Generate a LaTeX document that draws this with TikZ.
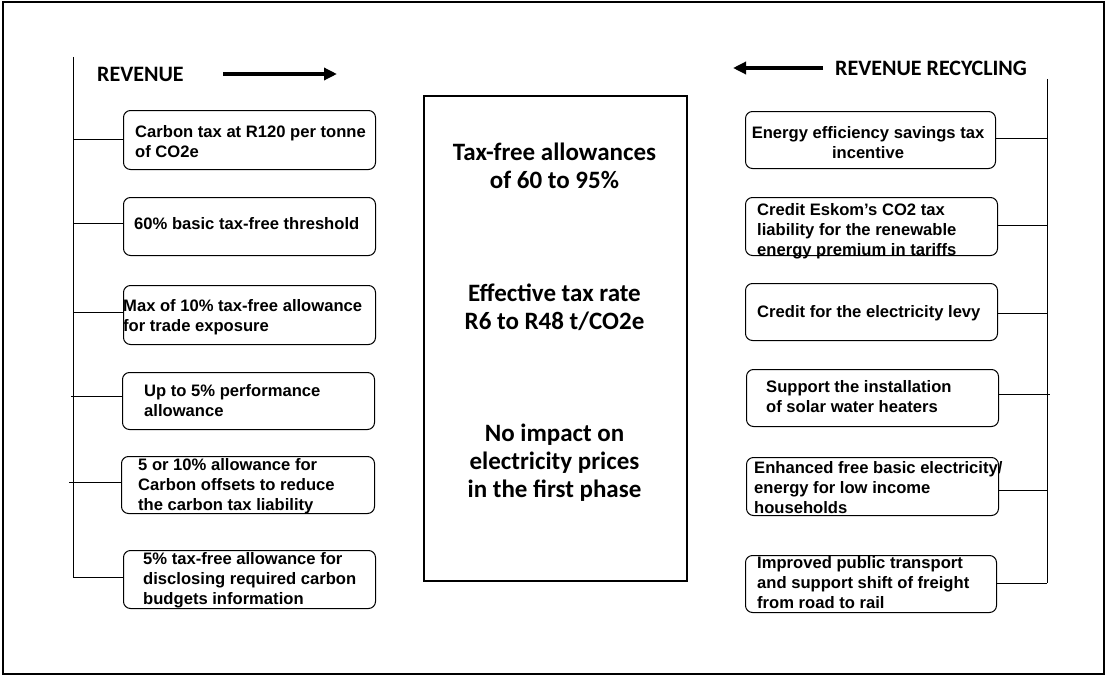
\documentclass[tikz,border=0pt]{standalone}
\usepackage{fontspec}
\usetikzlibrary{arrows.meta}
\setmainfont{Liberation Sans}
\newfontfamily\calib{Carlito}
\begin{document}
\begin{tikzpicture}[x=1pt,y=-1pt,
  bx/.style={draw,rounded corners=7pt,line width=1pt,anchor=north west,inner sep=0pt},
  bt/.style={anchor=base west,align=left,inner sep=0pt,font=\fontsize{16.6}{20}\selectfont\bfseries},
  ln/.style={line width=0.9pt},
  hd/.style={font=\calib\fontsize{22}{24}\selectfont\bfseries,inner sep=0pt},
  ct/.style={font=\calib\fontsize{25}{28}\selectfont\bfseries,align=center,inner sep=0pt},
  ar/.style={line width=4pt,-{Triangle[length=13pt,width=12pt]}}]
\useasboundingbox (0,0) rectangle (1106,677);
\draw[line width=1.5pt] (3,2) rectangle (1104,674);
% left
\coordinate (lt) at (73,57);
\coordinate (lb) at (73,577);
\draw[ln] (lt) -- (lb);
\node[hd,anchor=west] (rev) at (97,74) {REVENUE};
\coordinate (ra1) at (223,74);
\coordinate (ra2) at (337,74);
\draw[ar] (ra1) -- (ra2);
\node[bx,minimum width=252pt,minimum height=59pt] (L1) at (123,110) {};
\node[bx,minimum width=252pt,minimum height=58pt] (L2) at (123,197) {};
\node[bx,minimum width=252pt,minimum height=59pt] (L3) at (123,285) {};
\node[bx,minimum width=252pt,minimum height=57pt] (L4) at (122,372) {};
\node[bx,minimum width=253pt,minimum height=57pt] (L5) at (121,456) {};
\node[bx,minimum width=252pt,minimum height=58pt] (L6) at (123,550) {};
\node[bt] (t1) at (135,157) {Carbon tax at R120 per tonne\\of CO2e};
\node[bt] (t2) at (134,229) {60\% basic tax-free threshold};
\node[bt] (t3) at (123,331) {Max of 10\% tax-free allowance\\for trade exposure};
\node[bt] (t4) at (144,416) {Up to 5\% performance\\allowance};
\node[bt] (t5) at (138,510) {5 or 10\% allowance for\\Carbon offsets to reduce\\the carbon tax liability};
\node[bt] (t6) at (143,604) {5\% tax-free allowance for\\disclosing required carbon\\budgets information};
\coordinate (j1) at (73,139);
\coordinate (j2) at (73,223);
\coordinate (j3) at (73,312);
\coordinate (j4) at (71,396);
\coordinate (j5) at (69,482);
\coordinate (j6) at (73,577);
\draw[ln] (j1) -- (L1.west |- j1);
\draw[ln] (j2) -- (L2.west |- j2);
\draw[ln] (j3) -- (L3.west |- j3);
\draw[ln] (j4) -- (L4.west |- j4);
\draw[ln] (j5) -- (L5.west |- j5);
\draw[ln] (j6) -- (L6.west |- j6);
% center
\node[draw,line width=1.8pt,anchor=north west,minimum width=263pt,minimum height=485pt,inner sep=0pt] (C) at (423,95) {};
\node[ct] (c1) at (554.5,166) {Tax-free allowances\\of 60 to 95\%};
\node[ct] (c2) at (554.5,307) {Effective tax rate\\R6 to R48 t/CO2e};
\node[ct] (c3) at (554.5,463) {No impact on\\electricity prices\\in the first phase};
% right
\coordinate (rt) at (1047,79);
\coordinate (rb) at (1047,583);
\draw[ln] (rt) -- (rb);
\node[hd,anchor=west] (rec) at (835,68) {REVENUE RECYCLING};
\coordinate (rb1) at (823,68);
\coordinate (rb2) at (733,68);
\draw[ar] (rb1) -- (rb2);
\node[bx,minimum width=250pt,minimum height=57pt] (R1) at (745,111) {};
\node[bx,minimum width=252pt,minimum height=58pt] (R2) at (745,197) {};
\node[bx,minimum width=252pt,minimum height=57pt] (R3) at (745,283) {};
\node[bx,minimum width=252pt,minimum height=57pt] (R4) at (746,369) {};
\node[bx,minimum width=252pt,minimum height=58pt] (R5) at (746,457) {};
\node[bx,minimum width=251pt,minimum height=57pt] (R6) at (745,555) {};
\node[bt,align=center,anchor=base] (s1) at (868,158) {Energy efficiency savings tax\\incentive};
\node[bt] (s2) at (757,255) {Credit Eskom's CO2 tax\\liability for the renewable\\energy premium in tariffs};
\node[bt] (s3) at (757,317) {Credit for the electricity levy};
\node[bt] (s4) at (766,412) {Support the installation\\of solar water heaters};
\node[bt] (s5) at (754,513) {Enhanced free basic electricity/\\energy for low income\\households};
\node[bt] (s6) at (757,608) {Improved public transport\\and support shift of freight\\from road to rail};
\coordinate (k1) at (1047,138);
\coordinate (k2) at (1047,225);
\coordinate (k3) at (1047,313);
\coordinate (k4) at (1050,394);
\coordinate (k5) at (1047,490);
\coordinate (k6) at (1047,583);
\draw[ln] (R1.east |- k1) -- (k1);
\draw[ln] (R2.east |- k2) -- (k2);
\draw[ln] (R3.east |- k3) -- (k3);
\draw[ln] (R4.east |- k4) -- (k4);
\draw[ln] (R5.east |- k5) -- (k5);
\draw[ln] (R6.east |- k6) -- (k6);
\end{tikzpicture}
\end{document}
